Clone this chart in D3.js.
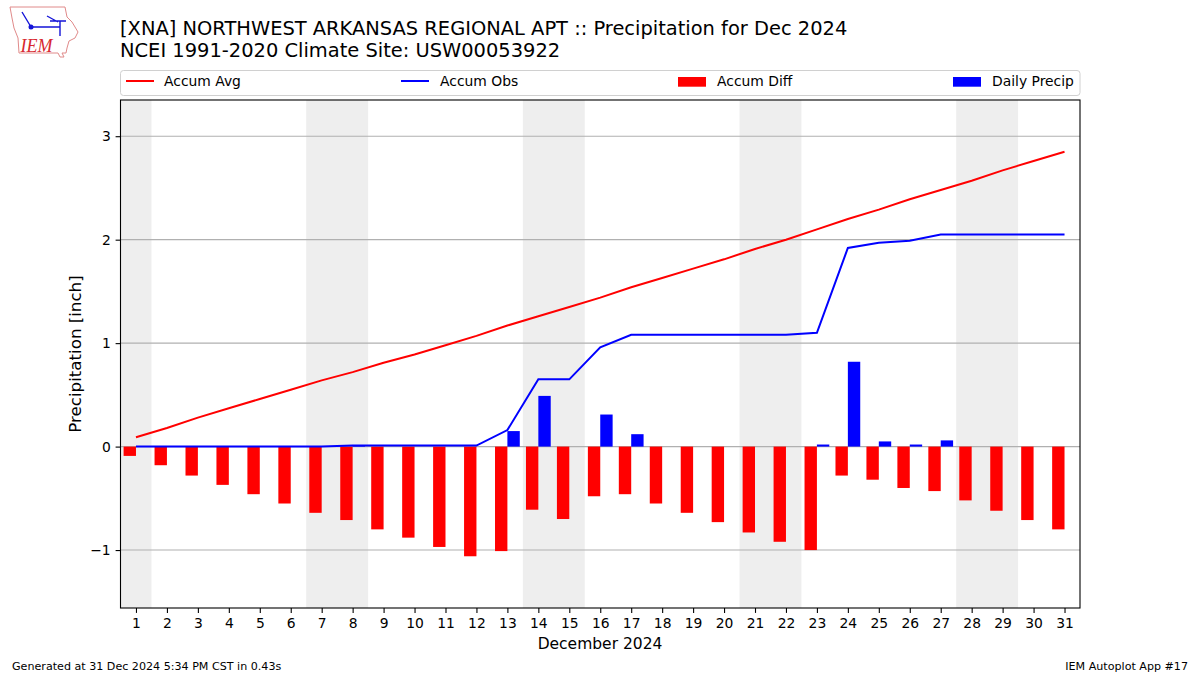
<!DOCTYPE html>
<html><head><meta charset="utf-8">
<script src="https://cdnjs.cloudflare.com/ajax/libs/d3/7.8.5/d3.min.js"></script>
<style>html,body{margin:0;padding:0;background:#fff}svg{display:block}text{font-family:"DejaVu Sans",sans-serif}</style>
</head><body><svg id="c" width="1200" height="675"></svg>
<script>
const days = d3.range(1, 32);
const accumAvg = [0.09,0.18,0.28,0.37,0.46,0.55,0.64,0.72,0.81,0.89,0.98,1.07,1.17,1.26,1.35,1.44,1.54,1.63,1.72,1.81,1.91,2.00,2.10,2.20,2.29,2.39,2.48,2.57,2.67,2.76,2.85];
const accumObs = [0,0,0,0,0,0,0,0.01,0.01,0.01,0.01,0.01,0.16,0.65,0.65,0.96,1.08,1.08,1.08,1.08,1.08,1.08,1.10,1.92,1.97,1.99,2.05,2.05,2.05,2.05,2.05];
const accumDiff = [-0.09,-0.18,-0.28,-0.37,-0.46,-0.55,-0.64,-0.71,-0.80,-0.88,-0.97,-1.06,-1.01,-0.61,-0.70,-0.48,-0.46,-0.55,-0.64,-0.73,-0.83,-0.92,-1.00,-0.28,-0.32,-0.40,-0.43,-0.52,-0.62,-0.71,-0.80];
const dailyPrecip = [0,0,0,0,0,0,0,0.01,0,0,0,0,0.15,0.49,0,0.31,0.12,0,0,0,0,0,0.02,0.82,0.05,0.02,0.06,0,0,0,0];
const weekendSpans = [[0.5,1.5],[6.5,8.5],[13.5,15.5],[20.5,22.5],[27.5,29.5]];
const yTicks = [-1,0,1,2,3];
const titleLines = ["[XNA] NORTHWEST ARKANSAS REGIONAL APT :: Precipitation for Dec 2024","NCEI 1991-2020 Climate Site: USW00053922"];
const legendItems = [["Accum Avg","line","#f00",126,164],["Accum Obs","line","#00f",401,440],["Accum Diff","bar","#f00",678,717],["Daily Precip","bar","#00f",953,992]];

const L=120.5,R=1080,T=100,B=608;
const svg=d3.select("#c");
const x=d3.scaleLinear().domain([0.5,31.5]).range([L,R]);
const y=d3.scaleLinear().domain([-1.56,3.35]).range([B,T]);
const barW=0.4;

// logo
const logo=svg.append("g");
logo.append("path").attr("d","M10 7 L65 7 L67 17 L72 22 L78 32 L75 38 L69 41 L67 48 L66 53 L62 53 L64 57 L60 57 L58 53 L19 53 L18 38 L14 28 L12 18 Z")
 .attr("fill","#fff").attr("stroke","#e08a8a").attr("stroke-width",1);
logo.append("path").attr("d","M31 27 H60 M60 21 V36 M47 16 L58 22 M50 21 H66 M22 12 L31 27").attr("fill","none").attr("stroke","#1414d8").attr("stroke-width",1.4);
logo.append("circle").attr("cx",31).attr("cy",27).attr("r",2.5).attr("fill","#1414d8");
logo.append("text").attr("x",20.5).attr("y",52).attr("font-size",18).attr("font-style","italic").attr("fill","#d8282f").style("font-family","'Liberation Serif',serif").text("IEM");

// title
titleLines.forEach((t,i)=>svg.append("text").attr("x",120).attr("y",35+i*21.5).attr("font-size",19.44).attr("fill","#000").text(t));

// legend
svg.append("rect").attr("x",120.5).attr("y",70.5).attr("width",959.5).attr("height",25).attr("rx",3).attr("fill","#fff").attr("stroke","#d0d0d0");
legendItems.forEach(([t,k,c,hx,tx])=>{
 if(k==="line") svg.append("line").attr("x1",hx).attr("x2",hx+28).attr("y1",81).attr("y2",81).attr("stroke",c).attr("stroke-width",2);
 else svg.append("rect").attr("x",hx).attr("y",77).attr("width",28).attr("height",9.7).attr("fill",c);
 svg.append("text").attr("x",tx).attr("y",86).attr("font-size",13.89).attr("fill","#000").text(t);
});

// plot
svg.selectAll("rect.wk").data(weekendSpans).join("rect").attr("class","wk")
 .attr("x",d=>x(d[0])).attr("width",d=>x(d[1])-x(d[0])).attr("y",T).attr("height",B-T).attr("fill","#eeeeee");
svg.selectAll("line.grid").data(yTicks).join("line").attr("class","grid")
 .attr("x1",L).attr("x2",R).attr("y1",d=>y(d)).attr("y2",d=>y(d)).attr("stroke","#b0b0b0").attr("stroke-width",1.1);
svg.selectAll("rect.diff").data(days).join("rect").attr("class","diff")
 .attr("x",d=>x(d-barW)).attr("width",x(barW)-x(0)).attr("y",y(0)).attr("height",(d,i)=>y(accumDiff[i])-y(0)).attr("fill","#f00");
svg.selectAll("rect.daily").data(days).join("rect").attr("class","daily")
 .attr("x",d=>x(d)).attr("width",x(barW)-x(0)).attr("y",(d,i)=>y(dailyPrecip[i])).attr("height",(d,i)=>y(0)-y(dailyPrecip[i])).attr("fill","#00f");
const line=s=>d3.line().x((d,i)=>x(days[i])).y(d=>y(d))(s);
svg.append("path").attr("d",line(accumAvg)).attr("fill","none").attr("stroke","#f00").attr("stroke-width",2);
svg.append("path").attr("d",line(accumObs)).attr("fill","none").attr("stroke","#00f").attr("stroke-width",2);

// axes
const ax=svg.append("g").attr("transform",`translate(0,${B})`).call(d3.axisBottom(x).tickValues(days).tickFormat(d3.format("d")).tickSize(4.9).tickPadding(4.9));
const ay=svg.append("g").attr("transform",`translate(${L},0)`).call(d3.axisLeft(y).tickValues(yTicks).tickFormat(d=>d<0?"\u2212"+(-d):d).tickSize(4.9).tickPadding(4.9));
[ax,ay].forEach(g=>{g.selectAll("text").attr("font-size",13.89).attr("fill","#000").style("font-family","'DejaVu Sans'");g.selectAll("line").attr("stroke","#000").attr("stroke-width",1.1);g.select(".domain").remove();});
svg.append("rect").attr("x",L).attr("y",T).attr("width",R-L).attr("height",B-T).attr("fill","none").attr("stroke","#000").attr("stroke-width",1.1);

svg.append("text").attr("x",600).attr("y",649).attr("text-anchor","middle").attr("font-size",15.5).attr("fill","#000").text("December 2024");
svg.append("text").attr("transform","translate(81,354) rotate(-90)").attr("text-anchor","middle").attr("font-size",16.67).attr("fill","#000").text("Precipitation [inch]");
svg.append("text").attr("x",12).attr("y",670).attr("font-size",11.11).attr("fill","#000").text("Generated at 31 Dec 2024 5:34 PM CST in 0.43s");
svg.append("text").attr("x",1188).attr("y",670).attr("text-anchor","end").attr("font-size",11.11).attr("fill","#000").text("IEM Autoplot App #17");
</script></body></html>
